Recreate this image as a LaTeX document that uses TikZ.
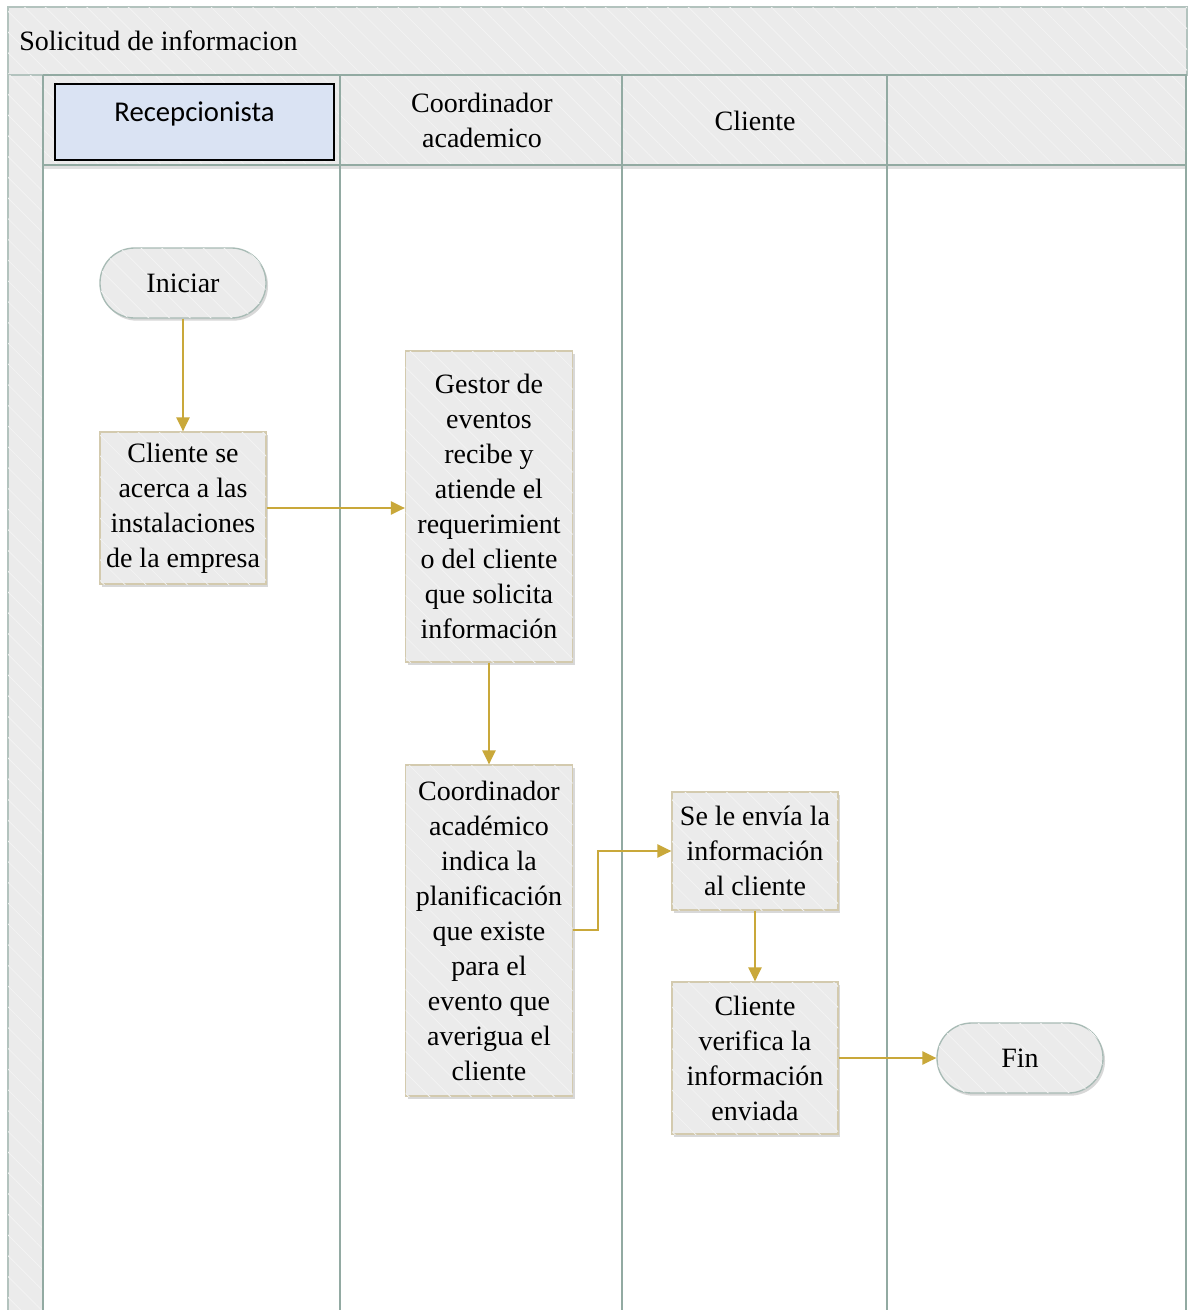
\documentclass[tikz,border=0pt]{standalone}
\usepackage{fontspec}
\setmainfont{Liberation Serif}
\newfontfamily\calib{Carlito}
\usetikzlibrary{patterns.meta,shadows,arrows.meta}
\definecolor{lanecol}{HTML}{92AAA2}
\definecolor{hgray}{HTML}{EBEBEB}
\definecolor{hline}{HTML}{F3F3F3}
\definecolor{boxborder}{HTML}{D3CAAE}
\definecolor{flow}{HTML}{C9A83A}
\definecolor{recblue}{HTML}{DAE3F3}
\tikzset{
  hatch/.style={fill=hgray, postaction={pattern={Lines[angle=-45,distance=11pt,line width=0.6pt]}, pattern color=hline}},
  lanel/.style={draw=lanecol, line width=1.6pt},
  txt/.style={font=\fontsize{21}{26.25}\selectfont, align=center, inner sep=0pt},
  procbox/.style={txt, draw=boxborder, line width=1pt, hatch,
    drop shadow={shadow xshift=1.5pt, shadow yshift=-2pt, opacity=0.25, fill=black!60}},
  pill/.style={txt, draw=lanecol!80, line width=1pt, hatch, rounded corners=26pt,
    minimum width=124.5pt, minimum height=52.5pt,
    drop shadow={shadow xshift=1.5pt, shadow yshift=-2pt, opacity=0.25, fill=black!60}},
  flowarrow/.style={draw=flow, line width=1pt, -{Triangle[length=10.5pt,width=10pt]}},
}
\begin{document}
\begin{tikzpicture}[x=0.75pt,y=-0.75pt]
\path[use as bounding box, fill=white] (0,0) rectangle (1189,1310);
% pool title band
\path[hatch, draw=lanecol!70, line width=0.8pt] (8,7) rectangle (1187,75);
\node[txt, anchor=west] (title) at (19,41) {Solicitud de informacion};
% left strip
\path[hatch, draw=lanecol!70, line width=0.8pt] (8,75) rectangle (43,1312);
% header shadow
\fill[black!12] (43,165) rectangle (1187,169);
% header cells
\path[hatch] (43,75) rectangle (1187,165);
\draw[lanel] (43,75) -- (1187,75);
\draw[lanel] (43,165) -- (1187,165);
% recepcionista header
\node[draw=black, line width=1.5pt, fill=recblue, minimum width=209.25pt, minimum height=57pt, inner sep=0pt] (hrec) at (194.5,122) {};
\node[inner sep=0pt, font=\calib\fontsize{21.5}{26}\selectfont] (hrectxt) at (194.5,114) {Recepcionista};
\node[txt] (hcoord) at (482,120) {Coordinador\\academico};
\node[txt] (hcli) at (755,121) {Cliente};
% lane lines
\draw[lanel] (43,75) -- (43,1312);
\draw[lanel] (340,75) -- (340,1312);
\draw[lanel] (622,75) -- (622,1312);
\draw[lanel] (887,75) -- (887,1312);
\draw[lanel] (1186,75) -- (1186,1312);
% nodes
\node[pill] (ini) at (183,283) {Iniciar};
\node[procbox, minimum width=124.5pt, minimum height=114pt] (cli) at (183,508)
  {Cliente se\\acerca a las\\instalaciones\\de la empresa};
\node[procbox, minimum width=125.25pt, minimum height=233.25pt] (gestor) at (489,506.5)
  {Gestor de\\eventos\\recibe y\\atiende el\\requerimient\\o del cliente\\que solicita\\información};
\node[procbox, minimum width=125.25pt, minimum height=248.25pt] (coord) at (489,930.5)
  {Coordinador\\académico\\indica la\\planificación\\que existe\\para el\\evento que\\averigua el\\cliente};
\node[procbox, minimum width=124.5pt, minimum height=88.5pt] (envia) at (755,851)
  {Se le envía la\\información\\al cliente};
\node[procbox, minimum width=124.5pt, minimum height=114pt] (verif) at (755,1058)
  {Cliente\\verifica la\\información\\enviada};
\node[pill] (fin) at (1020,1058) {Fin};
% connectors
\draw[flowarrow] (ini.south) -- (cli.north);
\draw[flowarrow] (cli.east) -- (gestor.west |- cli.east);
\draw[flowarrow] (gestor.south) -- (coord.north);
\coordinate (bend) at (598,930);
\draw[flowarrow] (coord.east |- bend) -- (bend) |- (envia.west);
\draw[flowarrow] (envia.south) -- (verif.north);
\draw[flowarrow] (verif.east) -- (fin.west);
\end{tikzpicture}
\end{document}
